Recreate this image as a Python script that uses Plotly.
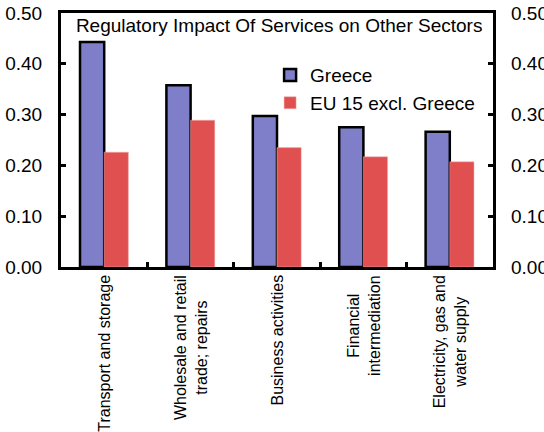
import plotly.graph_objects as go

categories = [
    "Transport and storage",
    "Wholesale and retail<br>trade; repairs",
    "Business activities",
    "Financial<br>intermediation",
    "Electricity, gas and<br>water supply",
]
greece = [0.443, 0.358, 0.297, 0.275, 0.266]
eu15 = [0.226, 0.289, 0.235, 0.217, 0.207]
ytick_vals = [0.0, 0.1, 0.2, 0.3, 0.4, 0.5]
ytick_text = ["0.00", "0.10", "0.20", "0.30", "0.40", "0.50"]

FONT = "Liberation Sans, Arial, sans-serif"

fig = go.Figure()
fig.add_trace(go.Bar(
    x=list(range(len(categories))), y=greece, name="Greece",
    marker=dict(color="#7F7FC9", line=dict(color="black", width=2.5)),
))
fig.add_trace(go.Bar(
    x=list(range(len(categories))), y=eu15, name="EU 15 excl. Greece",
    marker=dict(color="#E05050", line=dict(color="#F2B0B0", width=0.5)),
))
# invisible trace to create the right-hand axis
fig.add_trace(go.Scatter(x=[0], y=[0], yaxis="y2", mode="markers",
                         marker=dict(opacity=0), showlegend=False, hoverinfo="skip"))

annotations = []
for i, lab in enumerate(categories):
    annotations.append(dict(
        x=i, xref="x", y=0, yref="paper", yanchor="top", yshift=-6,
        text=lab, textangle=-90, showarrow=False, align="center",
        font=dict(family=FONT, size=16, color="black"),
    ))

fig.update_layout(
    width=544, height=432,
    margin=dict(l=61, r=51, t=13, b=165, autoexpand=False),
    paper_bgcolor="white", plot_bgcolor="white",
    barmode="group", bargap=0.44, bargroupgap=0,
    font=dict(family=FONT, size=19, color="black"),
    title=dict(text="Regulatory Impact Of Services on Other Sectors",
               x=0.505, xref="paper", xanchor="center",
               y=1 - 25 / 432, yref="container", yanchor="middle",
               font=dict(family=FONT, size=19, color="black"),
               automargin=False),
    legend=dict(x=0.484, y=0.83, xanchor="left", yanchor="top",
                bgcolor="rgba(0,0,0,0)", font=dict(family=FONT, size=19),
                tracegroupgap=0, itemwidth=30),
    xaxis=dict(type="category", range=[-0.5, 4.5], showticklabels=False,
               ticks="inside", ticklen=5, tickwidth=2.5, tickcolor="black",
               tickson="boundaries", tickvals=list(range(len(categories))),
               showline=True, linecolor="black", linewidth=3, mirror=True,
               showgrid=False, zeroline=False, automargin=False),
    yaxis=dict(range=[0, 0.5], tickvals=ytick_vals, ticktext=ytick_text,
               ticks="inside", ticklen=5, tickwidth=2.5, tickcolor="black",
               ticklabelstandoff=12, automargin=False,
               showline=True, linecolor="black", linewidth=3, mirror=True,
               showgrid=False, zeroline=False,
               tickfont=dict(family=FONT, size=19)),
    yaxis2=dict(overlaying="y", side="right", range=[0, 0.5],
                tickvals=ytick_vals, ticktext=ytick_text,
                ticks="inside", ticklen=5, tickwidth=2.5, tickcolor="black",
                ticklabelstandoff=17, automargin=False,
                showline=False, showgrid=False, zeroline=False,
                tickfont=dict(family=FONT, size=19)),
    annotations=annotations,
)

fig.write_html("out.html",
               config={"displayModeBar": False},
               post_script="document.body.style.margin='0';document.body.style.overflow='hidden';")
